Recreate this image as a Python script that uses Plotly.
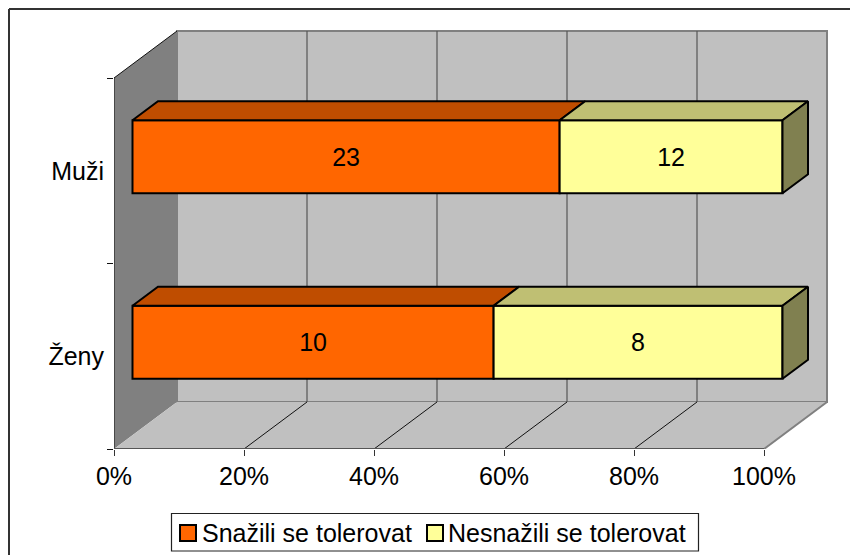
import plotly.graph_objects as go

categories = ["Ženy", "Muži"]
series_names = ["Snažili se tolerovat", "Nesnažili se tolerovat"]
snazili = [10, 23]
nesnazili = [8, 12]
x_ticks = [0, 20, 40, 60, 80, 100]

W, H = 850, 555
L, R, T, B = 114, 840, 20, 449
PX_X = 6.5      # px per percent
PX_Y = 185.5    # px per category band
FONT = "Liberation Sans, Arial, sans-serif"
FS = 25

DX, DY = 63 / PX_X, 47 / PX_Y          # depth of the floor
OX, OY = 18.5 / PX_X, 14 / PX_Y        # bar front-plane offset
BX, BY = 25.5 / PX_X, 19 / PX_Y        # bar depth
BW = 73 / PX_Y                         # bar thickness

WALL = "#C0C0C0"
SIDE = "#808080"
NC = len(categories)

def path(pts):
    return "M" + " L".join(f"{x},{y}" for x, y in pts) + " Z"

shapes = [
    dict(type="path", path=path([(0, 0), (DX, DY), (DX, NC + DY), (0, NC)]), fillcolor=SIDE, line_width=0, layer="below"),
    dict(type="path", path=path([(DX, DY), (100 + DX, DY), (100 + DX, NC + DY), (DX, NC + DY)]), fillcolor=WALL,
         line=dict(color=SIDE, width=2), layer="below"),
    dict(type="path", path=path([(0, 0), (100, 0), (100 + DX, DY), (DX, DY)]), fillcolor=WALL, line_width=0, layer="below"),
]
for t in x_ticks[1:-1]:
    shapes.append(dict(type="line", x0=t + DX, x1=t + DX, y0=DY, y1=NC + DY, line=dict(color="#555555", width=1.2), layer="below"))
    shapes.append(dict(type="line", x0=t, x1=t + DX, y0=0, y1=DY, line=dict(color="#111111", width=1), layer="below"))
shapes.append(dict(type="line", x0=100, x1=100 + DX, y0=0, y1=DY, line=dict(color=SIDE, width=2), layer="below"))

# chart-area frame (top and left edges), in paper fractions from the margins
pw, ph = R - L, B - T
px = lambda v: (v - L) / pw
py = lambda v: (B - v) / ph
frame = dict(color="#333333", width=2)
shapes.append(dict(type="line", xref="paper", yref="paper", x0=px(9), x1=px(W), y0=py(9), y1=py(9), line=frame))
shapes.append(dict(type="line", xref="paper", yref="paper", x0=px(9), x1=px(9), y0=py(9), y1=py(H), line=frame))

fig = go.Figure()

centers = [i + 0.5 + OY for i in range(NC)]
totals = [a + b for a, b in zip(snazili, nesnazili)]
pct_a = [100 * a / t for a, t in zip(snazili, totals)]
pct_b = [100 * b / t for b, t in zip(nesnazili, totals)]

styles = [("#FF6600", "#BF4D00", "#BF4D00"), ("#FFFF99", "#BFBF73", "#808050")]
bases = [[OX] * NC, [OX + p for p in pct_a]]
for name, vals, counts, base, (front, top, side) in zip(series_names, [pct_a, pct_b], [snazili, nesnazili], bases, styles):
    fig.add_trace(go.Bar(
        name=name, orientation="h", y=centers, x=vals, base=base, width=BW, showlegend=False,
        marker=dict(color=front, line=dict(color="black", width=2)),
        text=[str(c) for c in counts], textposition="inside", insidetextanchor="middle",
        textangle=0, textfont=dict(size=FS, color="black", family=FONT), cliponaxis=False,
    ))

def face(xs, ys, color):
    fig.add_trace(go.Scatter(x=xs, y=ys, mode="lines", fill="toself", fillcolor=color,
                             line=dict(color="black", width=2), showlegend=False,
                             hoverinfo="skip", cliponaxis=False))

for i, c in enumerate(centers):
    ytop, ybot = c + BW / 2, c - BW / 2
    x0 = OX
    for s, (_, top, side) in enumerate(styles):
        w = (pct_a if s == 0 else pct_b)[i]
        x1 = x0 + w
        face([x0, x1, x1 + BX, x0 + BX, x0], [ytop, ytop, ytop + BY, ytop + BY, ytop], top)
        if s == 1:
            face([x1, x1 + BX, x1 + BX, x1, x1], [ybot, ybot + BY, ytop + BY, ytop, ybot], side)
        x0 = x1

# axis lines
def line(xs, ys, color, width):
    fig.add_trace(go.Scatter(x=xs, y=ys, mode="lines", line=dict(color=color, width=width),
                             showlegend=False, hoverinfo="skip", cliponaxis=False))
line([0, 0], [0, NC], "#111111", 1)
line([0, DX], [NC, NC + DY], "#111111", 1)
line([-6 / PX_X, 100], [0, 0], "#555555", 2)

# legend: frame, swatches and labels
shapes.append(dict(type="rect", xref="paper", yref="paper", x0=px(171.5), x1=px(698.5), y0=py(513.5), y1=py(551),
                   line=dict(color="#222222", width=1.2), fillcolor="white"))
annotations = []
for sx, tx, name, (front, _, _) in zip([180, 427], [202, 448], series_names, styles):
    shapes.append(dict(type="rect", xref="paper", yref="paper", x0=px(sx), x1=px(sx + 16), y0=py(525), y1=py(541),
                       line=dict(color="black", width=2), fillcolor=front))
    annotations.append(dict(xref="paper", yref="paper", x=px(tx), y=py(532.5), xanchor="left", yanchor="middle",
                            text=name, showarrow=False, font=dict(size=FS, color="black", family=FONT),
                            borderpad=0, borderwidth=0))

fig.update_layout(
    width=W, height=H, autosize=False, paper_bgcolor="white", plot_bgcolor="rgba(0,0,0,0)",
    margin=dict(l=L, r=W - R, t=T, b=H - B, pad=0), showlegend=False,
    barmode="overlay", shapes=shapes, annotations=annotations, font=dict(family=FONT, size=FS, color="black"),
    xaxis=dict(range=[0, (R - L) / PX_X], tickvals=x_ticks, ticktext=[f"{t}%" for t in x_ticks],
               ticks="outside", ticklen=6, tickcolor="#333333", tickwidth=1, ticklabelstandoff=-1, showgrid=False, zeroline=False,
               showline=False, tickfont=dict(size=FS)),
    yaxis=dict(range=[0, (B - T) / PX_Y], tickvals=[i + 0.5 for i in range(NC)], ticktext=categories,
               ticks="outside", ticklen=0, ticklabelstandoff=4, showgrid=False, zeroline=False, showline=False,
               minor=dict(tickvals=list(range(NC + 1)), ticks="outside", ticklen=6, tickcolor="#111111", tickwidth=1, showgrid=False),
               tickfont=dict(size=FS)),
)
fig.write_html("out.html", post_script="document.body.style.margin='0';", config={"displayModeBar": False})
